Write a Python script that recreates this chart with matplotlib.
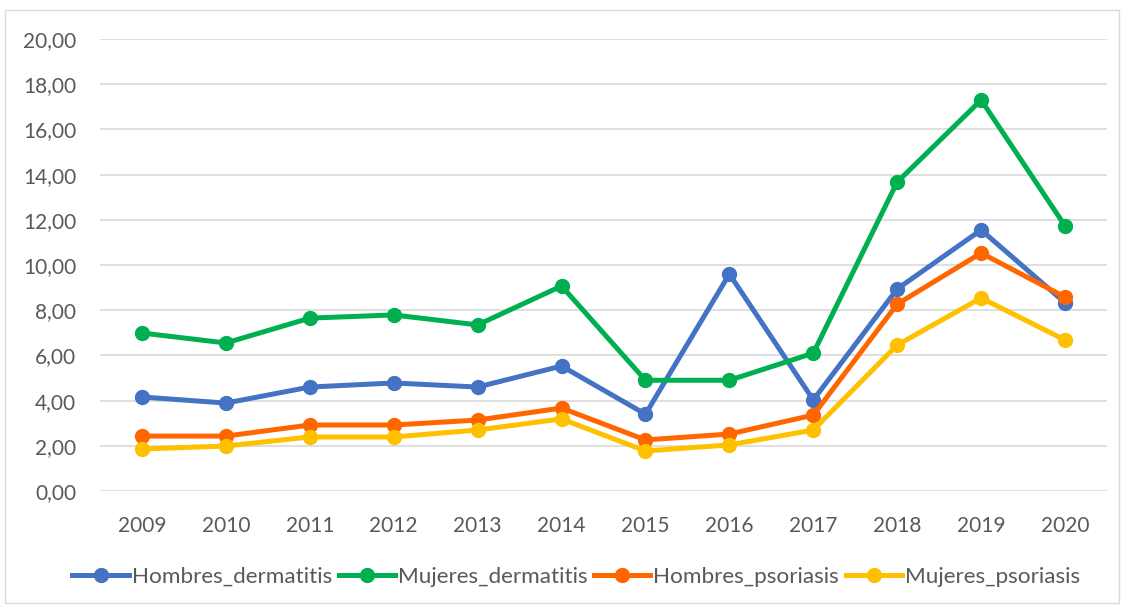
import matplotlib.pyplot as plt
from matplotlib.patches import Rectangle
from matplotlib.ticker import FuncFormatter

plt.rcParams['font.family'] = ['Lato', 'DejaVu Sans']

years = ['2009', '2010', '2011', '2012', '2013', '2014',
         '2015', '2016', '2017', '2018', '2019', '2020']
hombres_dermatitis = [4.16, 3.89, 4.60, 4.78, 4.60, 5.53, 3.40, 9.60, 4.03, 8.94, 11.55, 8.33]
mujeres_dermatitis = [6.99, 6.55, 7.65, 7.79, 7.35, 9.07, 4.90, 4.90, 6.10, 13.67, 17.30, 11.73]
hombres_psoriasis = [2.43, 2.43, 2.92, 2.92, 3.14, 3.67, 2.26, 2.52, 3.36, 8.27, 10.53, 8.58]
mujeres_psoriasis = [1.86, 1.99, 2.39, 2.39, 2.70, 3.19, 1.77, 2.04, 2.70, 6.46, 8.54, 6.68]

series = [
    ('Hombres_dermatitis', hombres_dermatitis, '#4472C4'),
    ('Mujeres_dermatitis', mujeres_dermatitis, '#00B050'),
    ('Hombres_psoriasis', hombres_psoriasis, '#FF6600'),
    ('Mujeres_psoriasis', mujeres_psoriasis, '#FFC000'),
]

fig = plt.figure(figsize=(11.24, 6.07), dpi=100)
ax = fig.add_axes([100 / 1124, 1 - 491 / 607, 1007 / 1124, (491 - 39) / 607])

# chart border
fig.patches.append(Rectangle((5 / 1124, 1 - 603 / 607), 1114 / 1124, 593 / 607,
                             transform=fig.transFigure, fill=False,
                             edgecolor='#D9D9D9', linewidth=1))

x = list(range(len(years)))
for name, vals, color in series:
    ax.plot(x, vals, color=color, linewidth=3.6, marker='o', markersize=10,
            label=name, solid_joinstyle='round')

ax.set_xlim(-0.5, len(years) - 0.5)
ax.set_ylim(0, 20)
ax.set_yticks(range(0, 21, 2))
ax.yaxis.set_major_formatter(FuncFormatter(lambda v, p: f'{v:.2f}'.replace('.', ',')))
ax.set_xticks(x)
ax.set_xticklabels(years)
ax.grid(axis='y', color='#D9D9D9', linewidth=1.2)
ax.set_axisbelow(True)
for s in ax.spines.values():
    s.set_visible(False)
ax.tick_params(length=0, labelsize=15, colors='#595959', pad=18)
ax.tick_params(axis='y', pad=17)

ax.legend(loc='center', bbox_to_anchor=(0.473, -0.19), ncol=4, frameon=False,
          fontsize=16.2, handlelength=2.5, handletextpad=0.13, columnspacing=0.3,
          labelcolor='#595959')

fig.savefig('out.png', dpi=100)
